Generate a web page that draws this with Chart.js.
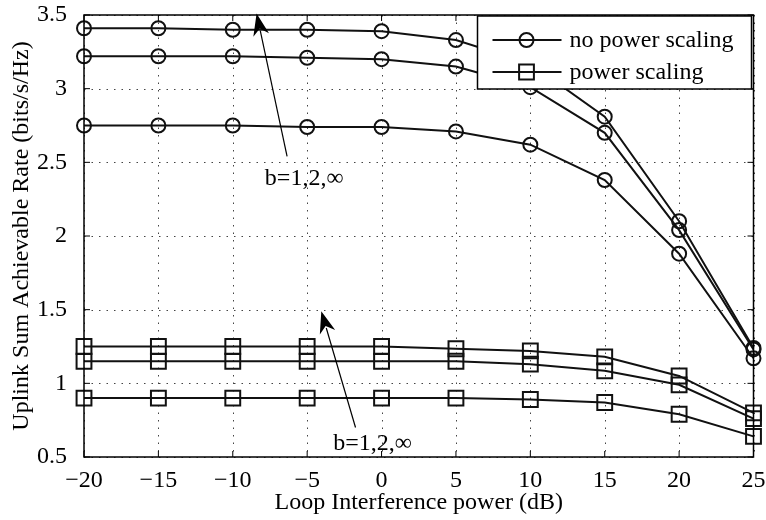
<!DOCTYPE html>
<html>
<head>
<meta charset="utf-8">
<script src="https://cdn.jsdelivr.net/npm/chart.js@4.4.1/dist/chart.umd.min.js"></script>
<style>
  html,body{margin:0;padding:0;background:#fff;}
  #wrap{width:766px;height:520px;}
</style>
</head>
<body>
<div id="wrap"><canvas id="c" width="766" height="520"></canvas></div>
<script>
// Loop interference power (dB)
const LI_DB = [-20, -15, -10, -5, 0, 5, 10, 15, 20, 25];

// no power scaling (circles), b = 1, 2, inf
const NOPS_B1   = [2.75, 2.75, 2.75, 2.74, 2.74, 2.71, 2.62, 2.38, 1.88, 1.17];
const NOPS_B2   = [3.22, 3.22, 3.22, 3.21, 3.20, 3.15, 3.01, 2.70, 2.04, 1.23];
const NOPS_BINF = [3.41, 3.41, 3.40, 3.40, 3.39, 3.33, 3.17, 2.81, 2.10, 1.24];

// power scaling (squares), b = 1, 2, inf
const PS_B1   = [0.90, 0.90, 0.90, 0.90, 0.90, 0.90, 0.89, 0.87, 0.79, 0.64];
const PS_B2   = [1.15, 1.15, 1.15, 1.15, 1.15, 1.15, 1.13, 1.085, 0.99, 0.76];
const PS_BINF = [1.25, 1.25, 1.25, 1.25, 1.25, 1.235, 1.22, 1.18, 1.05, 0.80];

const Y_TICKS = [0.5, 1, 1.5, 2, 2.5, 3, 3.5];
const LEGEND_LABELS = ['no power scaling', 'power scaling'];

// annotations: [tailX, tailY, headX, headY, textX, textY] in data units
const ANNOTS = [
  [-6.35, 2.54, -8.4, 3.51, -5.2, 2.39],
  [-1.75, 0.70, -4.05, 1.49, -0.6, 0.59],
];

const FONT = '"Liberation Serif", "Times New Roman", serif';
const FS = 24;

const pts = arr => arr.map((y,i)=>({x:LI_DB[i], y}));
const mkSet = (data, style) => ({
  data: pts(data), borderColor:'#111', borderWidth:2, pointStyle:style,
  pointRadius: style==='circle'?7:10.5, pointBorderWidth:2, pointBackgroundColor:'rgba(0,0,0,0)',
  pointBorderColor:'#111', fill:false, tension:0, clip:false,
});

// ── dotted grid (under the curves) ──────────────────────────────────────────
const dotGrid = {
  id:'dotGrid',
  beforeDatasetsDraw(chart) {
    const {ctx, chartArea:a, scales:{x, y}} = chart;
    ctx.save();
    ctx.strokeStyle='#444'; ctx.lineWidth=1; ctx.setLineDash([1.5,6]);
    ctx.beginPath();
    LI_DB.forEach(v=>{ const px=Math.round(x.getPixelForValue(v))+0.5; ctx.moveTo(px,a.top); ctx.lineTo(px,a.bottom); });
    Y_TICKS.forEach(v=>{ const py=Math.round(y.getPixelForValue(v))+0.5; ctx.moveTo(a.left,py); ctx.lineTo(a.right,py); });
    ctx.stroke();
    ctx.restore();
  }
};

// ── frame, inward ticks, annotations, legend ────────────────────────────────
const decor = {
  id:'decor',
  afterDatasetsDraw(chart) {
    const {ctx, chartArea:a, scales:{x, y}} = chart;
    ctx.save();
    ctx.strokeStyle='#000'; ctx.lineWidth=1.5;
    ctx.strokeRect(a.left, a.top, a.right-a.left, a.bottom-a.top);
    ctx.lineWidth=1;
    ctx.beginPath();
    LI_DB.forEach(v=>{
      const px=x.getPixelForValue(v);
      ctx.moveTo(px,a.bottom); ctx.lineTo(px,a.bottom-6);
      ctx.moveTo(px,a.top); ctx.lineTo(px,a.top+6);
    });
    Y_TICKS.forEach(v=>{
      const py=y.getPixelForValue(v);
      ctx.moveTo(a.left,py); ctx.lineTo(a.left+6,py);
      ctx.moveTo(a.right,py); ctx.lineTo(a.right-6,py);
    });
    ctx.stroke();

    // arrows + labels
    ctx.fillStyle='#000'; ctx.strokeStyle='#000';
    ctx.font=`${FS}px ${FONT}`; ctx.textAlign='center'; ctx.textBaseline='middle';
    ANNOTS.forEach(([tx,ty,hx,hy,lx,ly])=>{
      const x0=x.getPixelForValue(tx), y0=y.getPixelForValue(ty);
      const x1=x.getPixelForValue(hx), y1=y.getPixelForValue(hy);
      const ang=Math.atan2(y1-y0,x1-x0), L=22, W=8;
      ctx.lineWidth=1.2;
      ctx.beginPath(); ctx.moveTo(x0,y0); ctx.lineTo(x1-Math.cos(ang)*L*0.8,y1-Math.sin(ang)*L*0.8); ctx.stroke();
      const bx=x1-Math.cos(ang)*L, by=y1-Math.sin(ang)*L;
      ctx.beginPath();
      ctx.moveTo(x1,y1);
      ctx.lineTo(bx+Math.sin(ang)*W, by-Math.cos(ang)*W);
      ctx.lineTo(x1-Math.cos(ang)*L*0.7, y1-Math.sin(ang)*L*0.7);
      ctx.lineTo(bx-Math.sin(ang)*W, by+Math.cos(ang)*W);
      ctx.closePath(); ctx.fill();
      ctx.fillText('b=1,2,\u221e', x.getPixelForValue(lx), y.getPixelForValue(ly));
    });

    // legend box
    const bw=274, bh=73, bxl=a.right-bw-2, byt=a.top+1;
    ctx.fillStyle='#fff'; ctx.fillRect(bxl,byt,bw,bh);
    ctx.lineWidth=1.5; ctx.strokeRect(bxl,byt,bw,bh);
    ctx.textAlign='left'; ctx.fillStyle='#000';
    LEGEND_LABELS.forEach((lab,i)=>{
      const ly=byt+24+i*32;
      ctx.lineWidth=2; ctx.strokeStyle='#111';
      ctx.beginPath(); ctx.moveTo(bxl+15,ly); ctx.lineTo(bxl+84,ly); ctx.stroke();
      const cx=bxl+49;
      ctx.beginPath();
      if (i===0) ctx.arc(cx,ly,7,0,Math.PI*2);
      else ctx.rect(cx-7.4,ly-7.4,14.8,14.8);
      ctx.stroke();
      ctx.fillText(lab,bxl+92,ly+1);
    });
    ctx.restore();
  }
};

new Chart(document.getElementById('c'), {
  type:'line',
  data:{ datasets:[
    mkSet(NOPS_BINF,'circle'), mkSet(NOPS_B2,'circle'), mkSet(NOPS_B1,'circle'),
    mkSet(PS_BINF,'rect'), mkSet(PS_B2,'rect'), mkSet(PS_B1,'rect'),
  ]},
  options:{
    responsive:false, animation:false, devicePixelRatio:1,
    layout:{ padding:0 },
    plugins:{ legend:{display:false}, tooltip:{enabled:false} },
    scales:{
      x:{
        type:'linear', min:-20, max:25,
        afterBuildTicks:s=>{ s.ticks=LI_DB.map(v=>({value:v})); },
        afterFit:s=>{ s.height=63; s.paddingLeft=0; s.paddingRight=12; },
        grid:{ display:false },
        border:{ display:false },
        ticks:{ font:{family:FONT,size:FS}, color:'#000', padding:1, maxRotation:0,
          callback:v=>String(v).replace('-','\u2212') },
        title:{ display:true, text:'Loop Interference power (dB)', font:{family:FONT,size:FS}, color:'#000', padding:{top:0,bottom:3} },
      },
      y:{
        type:'linear', min:0.5, max:3.5,
        afterBuildTicks:s=>{ s.ticks=Y_TICKS.map(v=>({value:v})); },
        afterFit:s=>{ s.width=84; s.paddingTop=15; s.paddingBottom=0; },
        grid:{ display:false },
        border:{ display:false },
        ticks:{ font:{family:FONT,size:FS}, color:'#000', padding:9, callback:v=>String(v) },
        title:{ display:true, text:'Uplink Sum Achievable Rate (bits/s/Hz)', font:{family:FONT,size:FS}, color:'#000', padding:{top:7,bottom:0} },
      },
    },
  },
  plugins:[dotGrid, decor],
});
</script>
</body>
</html>
